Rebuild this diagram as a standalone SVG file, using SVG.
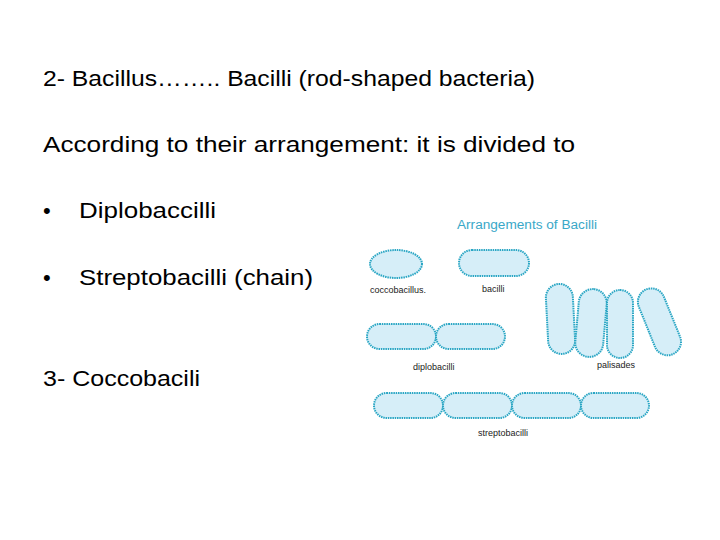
<svg xmlns="http://www.w3.org/2000/svg" width="720" height="540" viewBox="0 0 720 540">
<style>
.t{font-family:"Liberation Sans",Arial,sans-serif;font-size:22px;fill:#000}
.s{font-family:"Liberation Sans",Arial,sans-serif;font-size:9px;fill:#222}
.c{fill:#d6eef8;stroke:#2aa6c4;stroke-width:2;stroke-dasharray:1.5 0.8}
</style>
<rect width="720" height="540" fill="#fff"/>
<g id="text">
<text class="t" x="43" y="86" textLength="492" lengthAdjust="spacingAndGlyphs">2- Bacillus…….. Bacilli (rod-shaped bacteria)</text>
<text class="t" x="43" y="152" textLength="532" lengthAdjust="spacingAndGlyphs">According to their arrangement: it is divided to</text>
<text class="t" x="43" y="218">•</text>
<text class="t" x="79" y="218" textLength="137" lengthAdjust="spacingAndGlyphs">Diplobaccilli</text>
<text class="t" x="43" y="285">•</text>
<text class="t" x="79" y="285" textLength="234" lengthAdjust="spacingAndGlyphs">Streptobacilli (chain)</text>
<text class="t" x="43" y="386" textLength="157" lengthAdjust="spacingAndGlyphs">3- Coccobacili</text>
</g>
<g id="figure">
<text x="457" y="229" font-family="Liberation Sans,Arial,sans-serif" font-size="12" fill="#3aa8c8" textLength="140" lengthAdjust="spacingAndGlyphs">Arrangements of Bacilli</text>
<g id="coccobacillus"><ellipse class="c" cx="396" cy="264" rx="26" ry="14"/><text class="s" x="370" y="293">coccobacillus.</text></g>
<g id="bacilli"><rect class="c" x="459" y="250" width="70" height="26" rx="13"/><text class="s" x="482" y="292">bacilli</text></g>
<g id="diplobacilli"><rect class="c" x="367" y="324" width="69" height="25" rx="12.5"/><rect class="c" x="436" y="324" width="69" height="25" rx="12.5"/><text class="s" x="413" y="370">diplobacilli</text></g>
<g id="palisades">
<rect class="c" x="547" y="284" width="27" height="70" rx="13.5" transform="rotate(-3 560 319)"/>
<rect class="c" x="577" y="289" width="28" height="68" rx="14" transform="rotate(5 591 323)"/>
<rect class="c" x="607" y="290" width="26" height="68" rx="13"/>
<rect class="c" x="646" y="287" width="27" height="70" rx="13.5" transform="rotate(-22 659 322)"/>
<text class="s" x="597" y="368">palisades</text></g>
<g id="streptobacilli">
<rect class="c" x="374" y="393" width="69" height="25" rx="12.5"/><rect class="c" x="443" y="393" width="69" height="25" rx="12.5"/><rect class="c" x="512" y="393" width="69" height="25" rx="12.5"/><rect class="c" x="581" y="393" width="68" height="25" rx="12.5"/>
<text class="s" x="478" y="436">streptobacilli</text></g>
</g>
</svg>
